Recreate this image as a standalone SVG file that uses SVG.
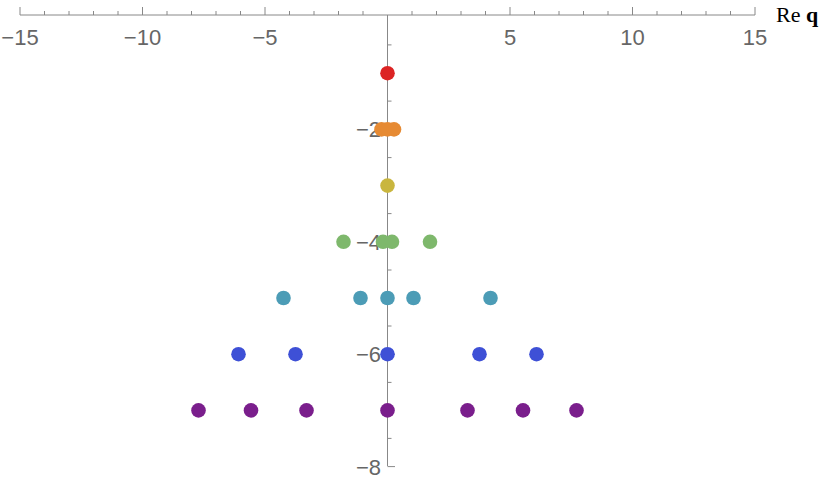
<svg xmlns="http://www.w3.org/2000/svg" width="830" height="482" viewBox="0 0 830 482">
<style>
.ax{stroke:#888;stroke-width:1;fill:none}
.t{font-family:"Liberation Sans",Arial,sans-serif;font-size:22px;fill:#666}
circle{stroke:none}
</style>
<rect width="830" height="482" fill="#fff"/>
<g id="axes">
<line class="ax" x1="20" y1="15" x2="755" y2="15"/>
<line class="ax" x1="387.5" y1="15" x2="387.5" y2="466"/>
<path class="ax" d="M20 15V7M142.5 15V7M265 15V7M510 15V7M632.5 15V7M755 15V7
M44.5 15V11M69 15V11M93.5 15V11M118 15V11M167 15V11M191.5 15V11M216 15V11M240.5 15V11M289.5 15V11M314 15V11M338.5 15V11M363 15V11M412 15V11M436.5 15V11M461 15V11M485.5 15V11M534.5 15V11M559 15V11M583.5 15V11M608 15V11M657 15V11M681.5 15V11M706 15V11M730.5 15V11
M387.5 129.4H395M387.5 241.8H395M387.5 354.2H395M387.5 466.6H395
M387.5 44.9H391.5M387.5 73.2H391.5M387.5 101.1H391.5M387.5 157.6H391.5M387.5 185.6H391.5M387.5 213.6H391.5M387.5 270H391.5M387.5 298H391.5M387.5 326H391.5M387.5 382.4H391.5M387.5 410.4H391.5M387.5 438.4H391.5"/>
<text class="t" x="20" y="45" text-anchor="middle">−15</text>
<text class="t" x="142.5" y="45" text-anchor="middle">−10</text>
<text class="t" x="265" y="45" text-anchor="middle">−5</text>
<text class="t" x="510" y="45" text-anchor="middle">5</text>
<text class="t" x="632.5" y="45" text-anchor="middle">10</text>
<text class="t" x="755" y="45" text-anchor="middle">15</text>
<text class="t" x="381" y="137" text-anchor="end">−2</text>
<text class="t" x="381" y="249.5" text-anchor="end">−4</text>
<text class="t" x="381" y="362" text-anchor="end">−6</text>
<text class="t" x="381" y="474.5" text-anchor="end">−8</text>
<text x="776" y="22" font-family="'Liberation Serif',serif" font-size="22" fill="#000">Re <tspan font-weight="bold">q</tspan></text>
</g>
<g id="points">
<circle cx="387.5" cy="73.2" r="7.3" fill="#DC2424"/>
<g fill="#E68A33"><circle cx="381.5" cy="129.4" r="7.3"/><circle cx="387.5" cy="129.4" r="7.3"/><circle cx="394" cy="129.4" r="7.3"/></g>
<circle cx="387.5" cy="185.6" r="7.3" fill="#C9B63E"/>
<g fill="#7EB86C"><circle cx="343.5" cy="241.8" r="7.3"/><circle cx="383" cy="241.8" r="7.3"/><circle cx="392" cy="241.8" r="7.3"/><circle cx="430" cy="241.8" r="7.3"/></g>
<g fill="#4C9CB6"><circle cx="283.5" cy="298" r="7.3"/><circle cx="360.5" cy="298" r="7.3"/><circle cx="387.5" cy="298" r="7.3"/><circle cx="413.5" cy="298" r="7.3"/><circle cx="490.5" cy="298" r="7.3"/></g>
<g fill="#3E50D6"><circle cx="238.5" cy="354.2" r="7.3"/><circle cx="295.5" cy="354.2" r="7.3"/><circle cx="387.5" cy="354.2" r="7.3"/><circle cx="479.5" cy="354.2" r="7.3"/><circle cx="536.5" cy="354.2" r="7.3"/></g>
<g fill="#7A1E8C"><circle cx="198.5" cy="410.4" r="7.3"/><circle cx="251" cy="410.4" r="7.3"/><circle cx="306.5" cy="410.4" r="7.3"/><circle cx="387.5" cy="410.4" r="7.3"/><circle cx="467.5" cy="410.4" r="7.3"/><circle cx="523" cy="410.4" r="7.3"/><circle cx="576.5" cy="410.4" r="7.3"/></g>
</g>
</svg>
